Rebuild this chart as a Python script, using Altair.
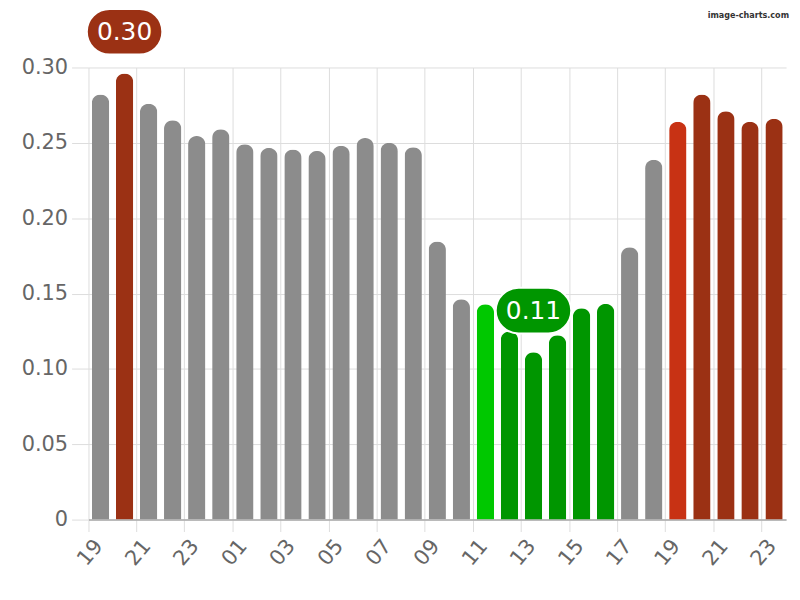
import altair as alt
import pandas as pd

# ---- data ----
hours = ["19", "20", "21", "22", "23",
         "00", "01", "02", "03", "04", "05", "06", "07", "08", "09", "10", "11",
         "12", "13", "14", "15", "16", "17", "18", "19", "20", "21", "22", "23"]
values = [0.282, 0.296, 0.276, 0.265, 0.2545,
          0.259, 0.249, 0.2466, 0.2455, 0.2446, 0.248, 0.2532, 0.250, 0.247, 0.1846, 0.1462, 0.1429,
          0.1248, 0.111, 0.1224, 0.1402, 0.1431, 0.1807, 0.2388, 0.264, 0.282, 0.271, 0.264, 0.2659]
levels = ["mid", "high", "mid", "mid", "mid",
          "mid", "mid", "mid", "mid", "mid", "mid", "mid", "mid", "mid", "mid", "mid", "low-start",
          "low", "low", "low", "low", "low", "mid", "mid", "high-start", "high", "high", "high", "high"]

level_names = ["mid", "high", "high-start", "low", "low-start"]
level_colors = ["#8c8c8c", "#9b3114", "#c83214", "#009600", "#00c800"]

annot_idx = [1, 18]
annot_text = ["0.30", "0.11"]

tick_values = [0, 0.05, 0.10, 0.15, 0.20, 0.25, 0.30]

# ---- frames ----
df = pd.DataFrame({"idx": list(range(len(hours))), "hour": hours,
                   "value": values, "level": levels})
ann = pd.DataFrame({"idx": annot_idx, "label": annot_text,
                    "value": [values[i] for i in annot_idx],
                    "level": [levels[i] for i in annot_idx]})

FONT = "DejaVu Sans"
label_arr = "[" + ",".join("'%s'" % h for h in hours) + "]"

color_scale = alt.Scale(domain=level_names, range=level_colors)

x_enc = alt.X(
    "idx:O",
    scale=alt.Scale(paddingInner=0, paddingOuter=0),
    axis=alt.Axis(
        title=None,
        values=list(range(0, len(hours), 2)),
        labelExpr=label_arr + "[datum.value]",
        bandPosition=0,
        labelAngle=-50,
        labelAlign="center",
        labelBaseline="middle",
        labelPadding=21,
        labelOffset=-10,
        labelFontSize=21,
        labelFont=FONT,
        labelColor="#666666",
        labelOverlap=False,
        tickSize=12,
        tickColor="#dddddd",
        grid=True,
        gridColor="#dddddd",
        domainColor="#aaaaaa",
        domainWidth=1.5,
    ),
)
y_scale = alt.Scale(domain=[0, 0.30], nice=False)
y_axis = alt.Axis(
    title=None,
    values=tick_values,
    labelExpr="datum.value == 0 ? '0' : format(datum.value, '.2f')",
    labelFontSize=21,
    labelFont=FONT,
    labelColor="#666666",
    labelPadding=4,
    tickSize=17,
    tickColor="#dddddd",
    grid=True,
    gridColor="#dddddd",
    domain=False,
)

bars = alt.Chart(df).mark_bar(
    width=alt.RelativeBandSize(0.72), cornerRadiusEnd=8.5
).encode(
    x=x_enc,
    y=alt.Y("value:Q", scale=y_scale, axis=y_axis),
    color=alt.Color("level:N", scale=color_scale, legend=None),
)

pill_path = ("M -0.395 -0.605 L 0.395 -0.605 A 0.605 0.605 0 0 1 0.395 0.605 "
             "L -0.395 0.605 A 0.605 0.605 0 0 1 -0.395 -0.605 Z")

pills = alt.Chart(ann).mark_point(
    shape=pill_path, size=5776, filled=True, opacity=1,
    stroke="white", strokeWidth=2, yOffset=-42
).encode(
    x="idx:O",
    y=alt.Y("value:Q", scale=y_scale),
    fill=alt.Fill("level:N", scale=color_scale, legend=None),
)

pill_text = alt.Chart(ann).mark_text(
    color="white", fontSize=25, font=FONT, yOffset=-42,
    align="center", baseline="middle"
).encode(
    x="idx:O",
    y=alt.Y("value:Q", scale=y_scale),
    text="label:N",
)

watermark = alt.Chart(pd.DataFrame({"t": ["image-charts.com"]})).mark_text(
    font="DejaVu Sans Condensed", fontWeight="bold", fontSize=9,
    color="#333333", align="right", baseline="top"
).encode(x=alt.value(705), y=alt.value(-57), text="t:N")

chart = alt.layer(bars, pills, pill_text, watermark).properties(
    width=702, height=455,
    autosize=alt.AutoSizeParams(type="none"),
    padding={"left": 81, "top": 58, "right": 6, "bottom": 70},
).configure_view(stroke=None)

chart.save("out.html", embed_options={"renderer": "svg", "actions": False})
